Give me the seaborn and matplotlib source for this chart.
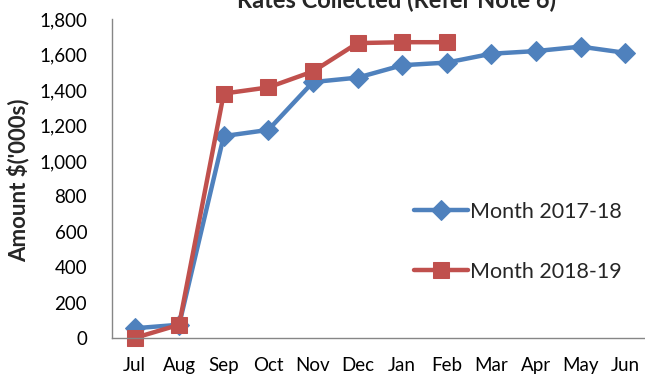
import pandas as pd
import matplotlib
matplotlib.use("Agg")
import matplotlib.pyplot as plt
import matplotlib.ticker as mticker
import seaborn as sns

# data
months = ['Jul', 'Aug', 'Sep', 'Oct', 'Nov', 'Dec', 'Jan', 'Feb', 'Mar', 'Apr', 'May', 'Jun']
rates_2017_18 = [55, 75, 1140, 1175, 1445, 1470, 1540, 1555, 1605, 1620, 1645, 1610]
rates_2018_19 = [0, 75, 1380, 1415, 1505, 1665, 1670, 1670]

sns.set_theme(style="white")
plt.rcParams['font.family'] = ['Lato', 'DejaVu Sans']

blue = '#4F81BD'
red = '#C0504D'

fig = plt.figure(figsize=(6.45, 3.76), dpi=100)
ax = fig.add_axes([0.174, 0.101, 0.83, 0.848])

df1 = pd.DataFrame({'pos': range(len(rates_2017_18)), 'val': rates_2017_18})
df2 = pd.DataFrame({'pos': range(len(rates_2018_19)), 'val': rates_2018_19})

sns.lineplot(data=df1, x='pos', y='val', ax=ax, color=blue, lw=3.2,
             marker='D', markersize=10, markeredgecolor=blue, label='Month 2017-18',
             clip_on=False)
sns.lineplot(data=df2, x='pos', y='val', ax=ax, color=red, lw=3.2,
             marker='s', markersize=12, markeredgecolor=red, label='Month 2018-19',
             clip_on=False)

ax.set_xlim(-0.5, len(months) - 0.5)
ax.set_ylim(0, 1800)
ax.set_xticks(range(len(months)))
ax.set_xticklabels(months)
ax.set_yticks(range(0, 1801, 200))
ax.yaxis.set_major_formatter(mticker.FuncFormatter(lambda v, p: f'{int(v):,}'))
ax.tick_params(axis='both', length=0, labelsize=13.5, colors='black')
ax.tick_params(axis='x', pad=14)
ax.tick_params(axis='y', pad=18)
ax.set_xlabel('')
ax.set_ylabel('')

for s in ['top', 'right']:
    ax.spines[s].set_visible(False)
for s in ['left', 'bottom']:
    ax.spines[s].set_color('#868686')
    ax.spines[s].set_linewidth(1)

fig.text(0.028, 0.521, "Amount $('000s)", rotation=90, ha='center', va='center',
         fontsize=16, fontweight='bold')
fig.text(0.615, 0.979, 'Rates Collected (Refer Note 6)', ha='center', va='baseline',
         fontsize=17, fontweight='bold')

ax.legend(loc='center left', bbox_to_anchor=(0.527, 0.302), frameon=False,
          fontsize=15.5, handlelength=2.5, labelspacing=1.86, handletextpad=0.1)

fig.savefig('out.png', dpi=100)
